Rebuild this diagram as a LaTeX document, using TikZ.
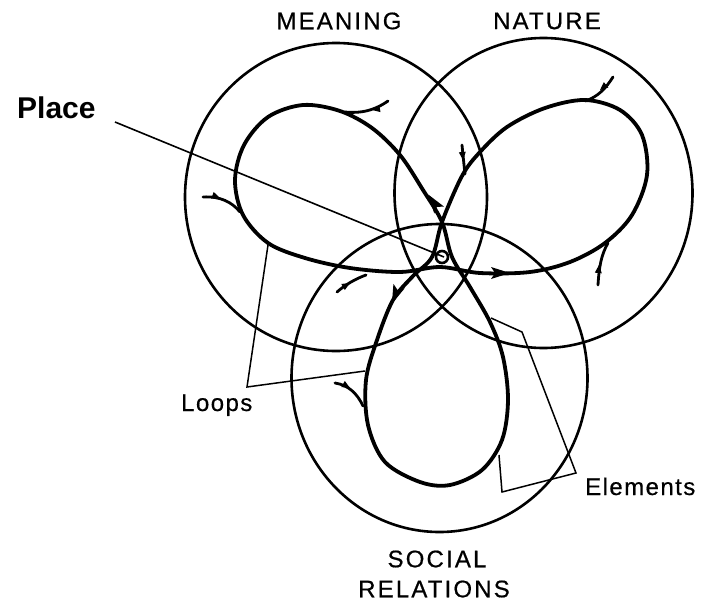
\documentclass[tikz,border=0pt]{standalone}
\usepackage{fontspec}
\setmainfont{Liberation Sans}
\newfontfamily\capsfont[LetterSpace=9,FakeBold=0.6]{Liberation Sans}
\newfontfamily\labfont[LetterSpace=6,FakeBold=0.5]{Liberation Sans}
\begin{document}
\begin{tikzpicture}[x=1pt,y=-1pt,
  circ/.style={draw=black,line width=2.6pt},
  loopline/.style={draw=black,line width=3.8pt,line join=round},
  feather/.style={draw=black,line width=2.8pt,line cap=round},
  leader/.style={draw=black,line width=1.5pt},
  capslabel/.style={font=\capsfont\fontsize{24}{24}\selectfont,inner sep=0pt},
  smalllabel/.style={font=\labfont\fontsize{24}{24}\selectfont,inner sep=0pt},
  placelabel/.style={font=\bfseries\fontsize{30}{30}\selectfont,inner sep=0pt}]
\newcommand{\flowarr}[3]{\fill[black,shift={(#1,#2)},rotate=#3] (3,0) -- (-16,6) -- (-12,0) -- (-16,-6) -- cycle;}
\newcommand{\barbtick}[3]{\fill[black,shift={(#1,#2)},rotate=#3] (0,0) -- (-8,3.5) -- (-8,-3.5) -- cycle;}
\useasboundingbox (0,0) rectangle (704,605);
\fill[white] (0,0) rectangle (704,605);
% circles
\draw[circ] (336,197) ellipse [x radius=151pt, y radius=154pt];
\draw[circ] (543.5,193) ellipse [x radius=149pt, y radius=155pt];
\draw[circ] (439.5,378) ellipse [x radius=148pt, y radius=154pt];
% trefoil loop path
\draw[loopline] plot[smooth cycle, tension=0.55] coordinates {
 (452,257) (442,222) (423,190) (400,155) (372,128) (340,111) (303,105)
 (268,117) (244,145) (235,180) (243,215) (268,243) (305,258) (350,268)
 (400,272) (440,267) (480,273) (530,272) (570,262) (605,243) (632,215)
 (647,175) (642,135) (620,110) (585,100) (545,108) (507,127) (480,152)
 (462,176) (442,222) (432,257) (413,276) (393,300) (377,340) (366,380)
 (368,425) (385,462) (420,482) (450,485) (482,470) (502,440) (508,400)
 (503,357) (490,322) (470,287)};
% place circle
\draw[black,line width=2.6pt,fill=white] (442,257) circle (6pt);
% flow arrows
\flowarr{430}{197}{125}
\flowarr{507}{273}{0}
\flowarr{393}{301}{-112}
% feathers
\draw[feather] (345,112) .. controls (365,114) and (378,108) .. (388,101);
\barbtick{372}{110}{190}
\draw[feather] (203,197) .. controls (220,196) and (232,202) .. (240,212);
\barbtick{220}{198}{-20}
\draw[feather] (585,101) .. controls (598,97) and (606,88) .. (613,77);
\barbtick{600}{90}{-140}
\draw[feather] (608,243) .. controls (601,255) and (599,268) .. (598,285);
\barbtick{599}{265}{85}
\draw[feather] (462,145) .. controls (463,155) and (464,165) .. (465,174);
\barbtick{463}{160}{-85}
\draw[feather] (337,292) .. controls (345,285) and (355,279) .. (366,275);
\barbtick{350}{283}{30}
\draw[feather] (335,383) .. controls (348,385) and (357,393) .. (363,406);
\barbtick{350}{388}{-30}
% place leader
\coordinate (placeend) at (444,257);
\node[placelabel,anchor=west] (place) at (17,108) {Place};
\draw[black,line width=1.6pt] (115,122) -- (placeend);
% loops bracket
\coordinate (lpA) at (268,245);
\coordinate (lpC) at (247,387);
\coordinate (lpB) at (365,371);
\draw[leader] (lpA) -- (lpC) -- (lpB);
\node[smalllabel,anchor=base west] (loops) at (181,411) {Loops};
% elements bracket
\coordinate (elA) at (491,318);
\coordinate (elB) at (522,332);
\coordinate (elC) at (576,473);
\coordinate (elD) at (502,492);
\coordinate (elE) at (499,455);
\draw[leader] (elA) -- (elB) -- (elC) -- (elD) -- (elE);
\node[smalllabel,anchor=base west] (elements) at (585,495) {Elements};
% top / bottom labels
\node[capslabel] (meaning) at (339,21) {MEANING};
\node[capslabel] (nature) at (547,21) {NATURE};
\node[capslabel] (social) at (437,559) {SOCIAL};
\node[capslabel] (relations) at (434,589) {RELATIONS};
\end{tikzpicture}
\end{document}
